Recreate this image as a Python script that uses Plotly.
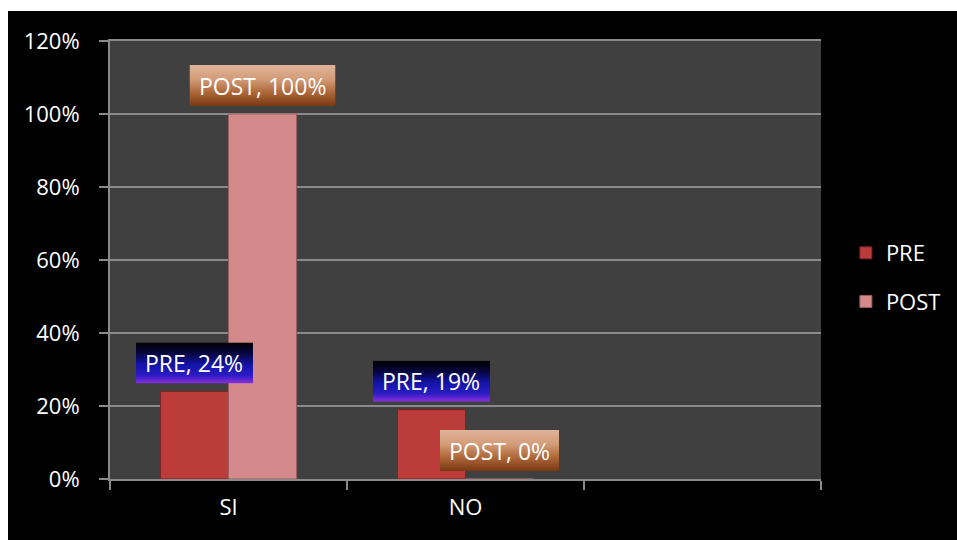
import base64
import plotly.graph_objects as go

# ---- data ----
categories = ["SI", "NO", " "]
series_names = ["PRE", "POST"]
pre_values = [0.24, 0.19]
post_values = [1.00, 0.00]
y_tick_vals = [0, 0.2, 0.4, 0.6, 0.8, 1.0, 1.2]
y_tick_text = ["0%", "20%", "40%", "60%", "80%", "100%", "120%"]

# ---- styling / layout constants ----
W, H = 957, 540
L, R, T, B = 110, 136, 41, 61
PLOT_W = W - L - R
PLOT_H = H - T - B
Y_MAX = 1.2
BARGAP = 0.426
FONT = "Open Sans"
FS = 22
PRE_COLOR = "#BC3B3B"
POST_COLOR = "#D4898A"
GRID = "#8A8A8A"

px_per_x = PLOT_W / len(categories)
px_per_y = PLOT_H / Y_MAX
bar_w = (1 - BARGAP) / 2
offsets = {"PRE": -bar_w / 2, "POST": bar_w / 2}


def grad_uri(stops):
    st = "".join(f'<stop offset="{o}" stop-color="{c}"/>' for o, c in stops)
    svg = ('<svg xmlns="http://www.w3.org/2000/svg" width="100" height="100" '
           'viewBox="0 0 100 100" preserveAspectRatio="none"><defs>'
           '<linearGradient id="g" x1="0" y1="0" x2="0" y2="1">' + st +
           '</linearGradient></defs><rect width="100" height="100" fill="url(#g)"/></svg>')
    return "data:image/svg+xml;base64," + base64.b64encode(svg.encode()).decode()


PRE_GRAD = grad_uri([(0, "#000000"), (0.25, "#05053A"), (0.55, "#1414AA"),
                     (0.8, "#2A1CC4"), (1, "#8C2FE0")])
POST_GRAD = grad_uri([(0, "#E0B49A"), (0.35, "#D29C78"), (0.65, "#B06A3C"),
                      (1, "#7A3812")])

fig = go.Figure()
fig.add_trace(go.Bar(
    name="PRE", x=categories[:2], y=pre_values,
    marker=dict(color=PRE_COLOR, line=dict(color="#7E2222", width=1)),
    legendgroup="a"))
fig.add_trace(go.Bar(
    name="POST", x=categories[:2], y=post_values,
    marker=dict(color=POST_COLOR, line=dict(color="#9C5E5E", width=1)),
    legendgroup="b"))

images = []
annotations = []
for name, vals, grad in [("PRE", pre_values, PRE_GRAD), ("POST", post_values, POST_GRAD)]:
    for i, v in enumerate(vals):
        txt = f"{name}, {round(v * 100)}%"
        w_px = 146 if txt.endswith("100%") else (119 if name == "POST" else 117)
        xc = i + offsets[name]
        images.append(dict(
            source=grad, xref="x", yref="y", x=xc, y=v + 8 / px_per_y,
            xanchor="center", yanchor="bottom",
            sizex=w_px / px_per_x, sizey=41 / px_per_y,
            sizing="stretch", layer="above"))
        annotations.append(dict(
            x=xc, y=v, xref="x", yref="y", text=txt, showarrow=False,
            yanchor="middle", xanchor="center", yshift=28.5,
            font=dict(family=FONT, size=FS + 1, color="white")))

# white page border strips (left and top) over the black page
border_shapes = [
    dict(type="rect", xref="paper", yref="paper", layer="above",
         x0=(-2 - L) / PLOT_W, x1=(8 - L) / PLOT_W,
         y0=-(B + 5) / PLOT_H, y1=1 + (T + 5) / PLOT_H,
         fillcolor="white", line=dict(width=0)),
    dict(type="rect", xref="paper", yref="paper", layer="above",
         x0=(-2 - L) / PLOT_W, x1=(W + 5 - L) / PLOT_W,
         y0=1 + (T - 11) / PLOT_H, y1=1 + (T + 5) / PLOT_H,
         fillcolor="white", line=dict(width=0)),
]

fig.update_layout(
    width=W, height=H,
    margin=dict(l=L, r=R, t=T, b=B, autoexpand=False),
    paper_bgcolor="black",
    plot_bgcolor="#404040",
    barmode="group", bargap=BARGAP, bargroupgap=0,
    font=dict(family=FONT, size=FS, color="white"),
    showlegend=True,
    legend=dict(x=1.035, y=0.46, xanchor="left", yanchor="middle",
                bgcolor="rgba(0,0,0,0)", font=dict(family=FONT, size=FS, color="white"),
                tracegroupgap=17, traceorder="grouped"),
    images=images,
    annotations=annotations,
    shapes=border_shapes,
    xaxis=dict(type="category", categoryorder="array", categoryarray=categories,
               range=[-0.5, len(categories) - 0.5], tickson="boundaries",
               ticks="outside", ticklen=9, tickwidth=2, tickcolor=GRID,
               showline=True, mirror=True, linecolor=GRID, linewidth=2, showgrid=False,
               ticklabelstandoff=8, tickfont=dict(family=FONT, size=FS, color="white")),
    yaxis=dict(range=[0, Y_MAX], tickvals=y_tick_vals, ticktext=y_tick_text,
               ticks="outside", ticklen=9, tickwidth=2, tickcolor=GRID,
               showline=True, linecolor=GRID, linewidth=2,
               showgrid=True, gridcolor=GRID, gridwidth=2, zeroline=False,
               ticklabelstandoff=15, tickfont=dict(family=FONT, size=FS, color="white")),
)

fig.write_html("out.html")
